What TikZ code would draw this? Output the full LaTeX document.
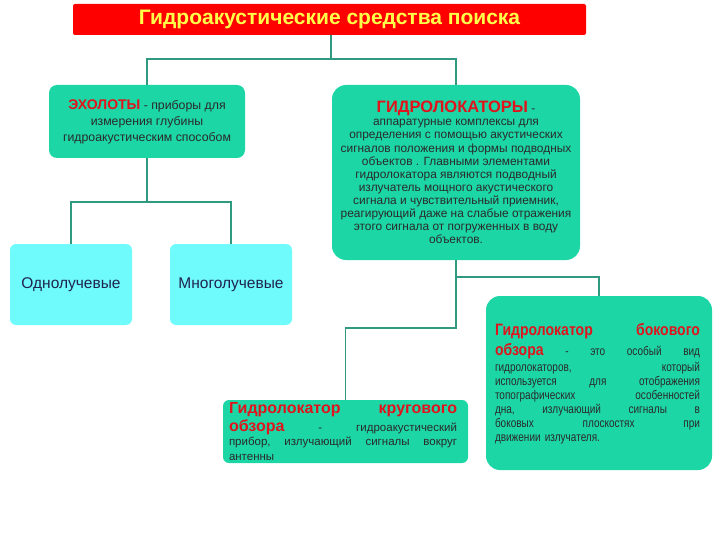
\documentclass[tikz,border=0pt]{standalone}
\usepackage{fontspec}
\setmainfont{Liberation Sans}
\newfontfamily\hfont{Liberation Sans}
\newfontfamily\condfont[FakeStretch=0.8]{Liberation Sans}
\newfontfamily\hcondfont[FakeStretch=0.85]{Liberation Sans}
\definecolor{boxgreen}{HTML}{1DD6A6}
\definecolor{boxcyan}{HTML}{6FFBFB}
\definecolor{linegreen}{HTML}{2F9A7F}
\definecolor{hdrred}{HTML}{E0141C}
\definecolor{titlered}{HTML}{FF0000}
\definecolor{titleyellow}{HTML}{FFFF4A}
\definecolor{bodytext}{HTML}{2A2A2A}
\definecolor{navytext}{HTML}{1F2350}
\newcommand\jline[1]{\hbox to\hsize{#1}}
\newcommand\hdr[1]{{\hfont\bfseries\color{hdrred}#1}}
\newcommand\hdrc[1]{{\hcondfont\bfseries\color{hdrred}#1}}
\tikzset{
  gbox/.style={fill=boxgreen, draw=none, inner sep=0pt, text=bodytext},
  cbox/.style={fill=boxcyan, draw=none, inner sep=0pt, text=navytext,
    minimum width=122pt, minimum height=81pt, rounded corners=6pt,
    font=\fontsize{15.5}{18}\selectfont},
  conn/.style={draw=linegreen, line width=1.8pt}
}
\begin{document}
\begin{tikzpicture}[x=1pt,y=-1pt]
\useasboundingbox (0,0) rectangle (720,540);
% title
\node[fill=titlered, rounded corners=2pt, minimum width=513pt, minimum height=31pt,
  inner sep=0pt, text=titleyellow, font=\hfont\bfseries\fontsize{21}{24}\selectfont]
  (title) at (329.5,19.5) {Гидроакустические средства поиска};
% echo sounders
\node[gbox, minimum width=196pt, minimum height=73pt, rounded corners=8pt,
  align=center, font=\fontsize{12.3}{16}\selectfont]
  (echo) at (147,121.5) {\hdr{\fontsize{14}{16}\selectfont ЭХОЛОТЫ} - приборы для\\измерения глубины\\гидроакустическим способом};
% hydrolocators
\node[gbox, minimum width=248pt, minimum height=175pt, rounded corners=14pt,
  align=center, font=\fontsize{11.9}{13.1}\selectfont]
  (hydro) at (456,172.5) {\hdr{\fontsize{16.5}{17}\selectfont ГИДРОЛОКАТОРЫ} -\\
  аппаратурные комплексы для\\
  определения с помощью акустических\\
  сигналов положения и формы подводных\\
  объектов . Главными элементами\\
  гидролокатора являются подводный\\
  излучатель мощного акустического\\
  сигнала и чувствительный приемник,\\
  реагирующий даже на слабые отражения\\
  этого сигнала от погруженных в воду\\
  объектов.};
% single/multi beam
\node[cbox] (one) at (71,284.5) {Однолучевые};
\node[cbox] (multi) at (231,284.5) {Многолучевые};
% circular
\node[gbox, minimum width=245pt, minimum height=63pt, rounded corners=6pt]
  (circ) at (345.5,431.5) {};
\node[text width=228pt, inner sep=0pt, align=left, text=bodytext,
  font=\fontsize{11.5}{14.5}\selectfont] (circt) at (343,431.5) {%
  \jline{\hdr{\fontsize{16}{16}\selectfont Гидролокатор\hfill кругового}}\vskip1.5pt
  \jline{\hdr{\fontsize{16}{16}\selectfont обзора}\hfill -\hfill гидроакустический}
  \jline{прибор,\hfill излучающий\hfill сигналы\hfill вокруг}
  \jline{антенны\hfill}};
% side scan
\node[gbox, minimum width=226pt, minimum height=174pt, rounded corners=14pt]
  (side) at (599,383) {};
\node[text width=205pt, inner sep=0pt, align=left, text=bodytext,
  font=\condfont\fontsize{12.5}{14}\selectfont] (sidet) at (597.5,383.5) {%
  \jline{\hdrc{\fontsize{16.5}{18}\selectfont Гидролокатор\hfill бокового}}\vskip3pt
  \jline{\hdrc{\fontsize{16.5}{18}\selectfont обзора}\hfill -\hfill это\hfill особый\hfill вид}\vskip2pt
  \jline{гидролокаторов,\hfill который}
  \jline{используется\hfill для\hfill отображения}
  \jline{топографических\hfill особенностей}
  \jline{дна,\hfill излучающий\hfill сигналы\hfill в}
  \jline{боковых\hfill плоскостях\hfill при}
  \jline{движении излучателя.\hfill}};
% connectors
\draw[conn] (title.south) ++(1.5,0) -- ++(0,24) coordinate (tj) -| (echo.north);
\draw[conn] (tj) -| (hydro.north);
\draw[conn] (echo.south) -- ++(0,44) coordinate (ej) -| (one.north);
\draw[conn] (ej) -| (multi.north);
\draw[conn] (hydro.south) -- ++(0,17) coordinate (hj) -| (side.north);
\draw[conn] (hj) -- ++(0,51) -| (circ.north);
\end{tikzpicture}
\end{document}
